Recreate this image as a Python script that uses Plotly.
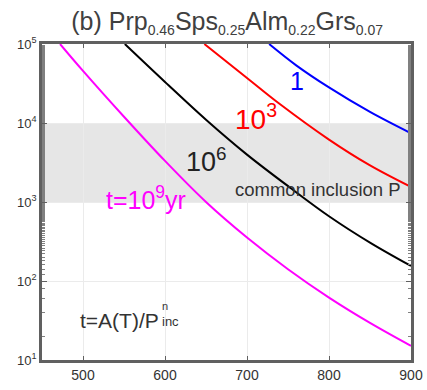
import plotly.graph_objects as go

# Temperature (°C) and inclusion pressure for each isochron t = A(T)/P_inc^n
T_1yr = [727, 760, 800, 850, 900]
P_1yr = [100000, 53700, 28200, 13800, 7410]

T_1e3 = [648, 700, 740, 800, 849, 900]
P_1e3 = [100000, 37200, 17400, 6170, 2950, 1550]

T_1e6 = [551, 600, 650, 700, 754, 800, 851, 900]
P_1e6 = [100000, 33100, 11000, 3980, 1480, 661, 302, 155]

T_1e9 = [472, 500, 550, 600, 650, 700, 750, 800, 850, 900]
P_1e9 = [100000, 45700, 12000, 3310, 1000, 355, 141, 61.7, 29.5, 15.1]

x_ticks = [500, 600, 700, 800, 900]
y_ticks = [10, 100, 1000, 10000, 100000]
y_ticktext = ["10<sup>1</sup>", "10<sup>2</sup>", "10<sup>3</sup>", "10<sup>4</sup>", "10<sup>5</sup>"]

band_low, band_high = 1000, 10000

series = [
    (T_1yr, P_1yr, "#0000ff"),
    (T_1e3, P_1e3, "#ff0000"),
    (T_1e6, P_1e6, "#000000"),
    (T_1e9, P_1e9, "#ff00ff"),
]

fig = go.Figure()
for xs, ys, col in series:
    fig.add_trace(go.Scatter(
        x=xs, y=ys, mode="lines",
        line=dict(color=col, width=2, shape="spline", smoothing=1.0),
        showlegend=False, hoverinfo="skip",
    ))

# Range of common inclusion pressures
fig.add_shape(type="rect", xref="x", yref="y", x0=450, x1=900,
              y0=band_low, y1=band_high, fillcolor="#e6e6e6",
              line=dict(width=0), layer="below")

font_family = "Arial, Liberation Sans, sans-serif"
ann = [
    dict(x=761, y=4.53, text="1", color="#0000ff", size=25),
    dict(x=711, y=4.08, text="10<sup>3</sup>", color="#ff0000", size=28),
    dict(x=650, y=3.53, text="10<sup>6</sup>", color="#222222", size=27),
    dict(x=577, y=3.05, text="t=10<sup>9</sup>yr", color="#ff00ff", size=25),
    dict(x=787, y=3.16, text="common inclusion P", color="#333333", size=18.5),
]
for a in ann:
    fig.add_annotation(x=a["x"], y=a["y"], text=a["text"], showarrow=False,
                       xref="x", yref="y",
                       font=dict(color=a["color"], size=a["size"], family=font_family))

# Flow-law relation, with exponent stacked over the subscript
fig.add_annotation(x=495, y=1.50, text="t=A(T)/P", showarrow=False, xanchor="left",
                   borderpad=0,
                   xref="x", yref="y", font=dict(color="#333333", size=21, family=font_family))
fig.add_annotation(x=595, y=1.58,
                   text='<span style="font-size:11px">n</span><br><span style="font-size:13px">inc</span>',
                   showarrow=False, xanchor="left", align="left", borderpad=0,
                   xref="x", yref="y", font=dict(color="#333333", size=12, family=font_family))

sub = '<span style="font-size:14px">{}</span>'
title = ("(b) Prp<sub>" + sub.format("0.46") + "</sub>Sps<sub>" + sub.format("0.25")
         + "</sub>Alm<sub>" + sub.format("0.22") + "</sub>Grs<sub>" + sub.format("0.07") + "</sub>")

fig.update_layout(
    width=427, height=390,
    margin=dict(l=42, r=16, t=44, b=30, autoexpand=False),
    paper_bgcolor="white", plot_bgcolor="white",
    font=dict(family=font_family, color="#333333"),
    title=dict(text=title, x=0.532, xanchor="center", y=0.945, yanchor="middle",
               font=dict(size=25, color="#404040", family=font_family)),
)
fig.update_xaxes(
    range=[450, 900], tickvals=x_ticks, ticks="inside", ticklen=4,
    tickcolor="#606060", showgrid=True, gridcolor="#ebebeb", gridwidth=1,
    showline=True, linecolor="#606060", linewidth=2.5, mirror="ticks",
    tickfont=dict(size=14, color="#333333"), zeroline=False, automargin=False,
)
fig.update_yaxes(
    type="log", range=[1, 5], tickvals=y_ticks, ticktext=y_ticktext,
    ticks="inside", ticklen=5, tickcolor="#606060",
    minor=dict(ticks="inside", ticklen=3, tickcolor="#808080", showgrid=False),
    showgrid=True, gridcolor="#ebebeb", gridwidth=1,
    showline=True, linecolor="#606060", linewidth=2.5, mirror="ticks",
    tickfont=dict(size=13, color="#333333"), zeroline=False, automargin=False,
)

fig.write_html("out.html")
